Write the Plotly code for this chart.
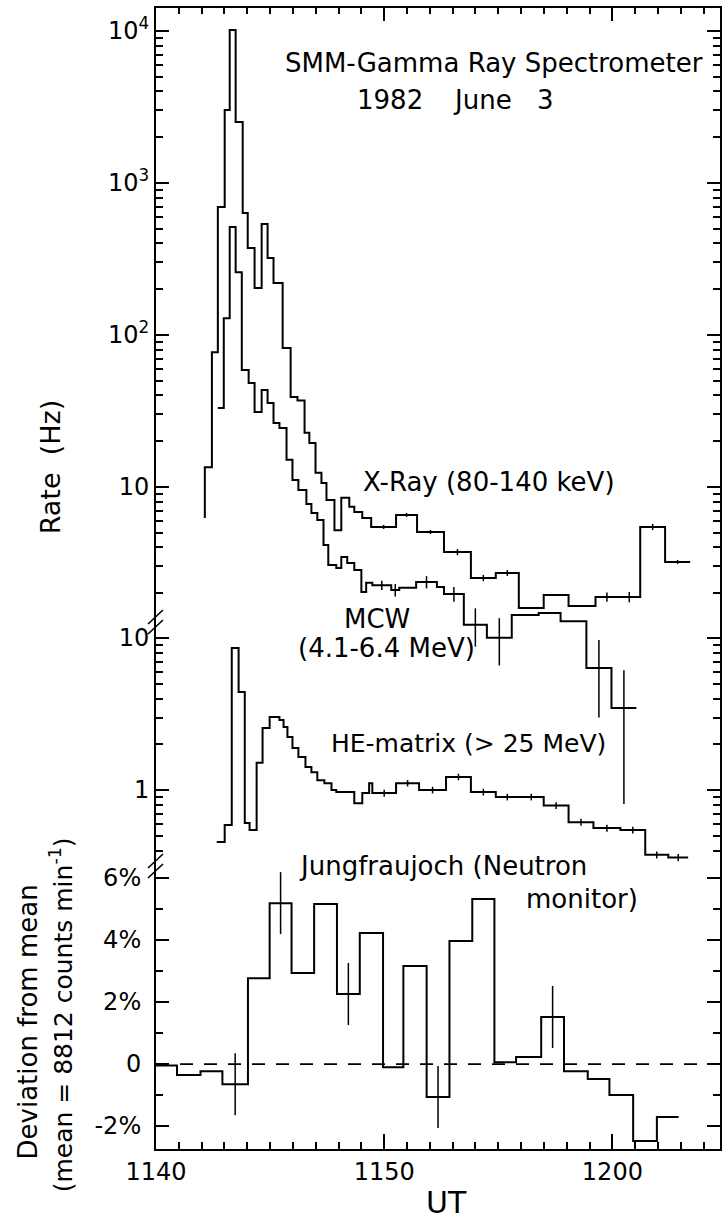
import plotly.graph_objects as go

# ---------------- data (time in minutes after 11:40 UT) ----------------
xray_edges = [2.14, 2.45, 2.71, 3.01, 3.23, 3.49, 3.80, 4.02, 4.32, 4.63,
              4.89, 5.15, 5.55, 5.90, 6.20, 6.51, 6.72, 6.99, 7.25, 7.47,
              7.82, 8.12, 8.47, 8.69, 9.04, 9.43, 10.52, 11.44, 12.62, 13.80,
              14.89, 15.90, 16.99, 18.08, 19.26, 20.26, 21.22, 22.31, 23.41]
xray_rate = [13.5, 77, 695, 3020, 10160, 2520, 635, 373, 204, 537,
             321, 220, 82, 39, 37, 22.7, 19.5, 12.4, 10.6, 8.2,
             5.2, 8.5, 7.4, 6.85, 6.25, 5.46, 6.55, 5.06, 3.73, 2.52,
             2.72, 1.60, 1.95, 1.65, 1.89, 1.89, 5.46, 3.21]
xray_start = 6.25
xray_err = [None] * 25 + [0.17, 0.2, 0.15, 0.17, 0.12, 0.12, None, None, None,
                          0.13, 0.15, 0.25, 0.1]

mcw_edges = [2.71, 2.97, 3.23, 3.49, 3.76, 4.06, 4.32, 4.63, 4.89, 5.15,
             5.41, 5.72, 5.98, 6.24, 6.59, 6.81, 7.07, 7.34, 7.55, 7.90,
             8.12, 8.38, 8.69, 9.00, 9.21, 9.48, 10.31, 10.66, 11.40, 12.31,
             12.62, 13.49, 14.50, 15.59, 16.77, 17.73, 18.86, 19.96, 21.05]
mcw_rate = [33.1, 129, 514, 259, 58.9, 48.3, 31.1, 43.5, 35.7, 26.4,
            24.4, 15.1, 11.1, 9.55, 7.73, 6.75, 6.07, 4.15, 3.07, 2.93,
            3.46, 3.16, 2.84, 2.04, 2.34, 2.26, 2.10, 2.17, 2.37, 2.20,
            1.98, 1.24, 1.02, 1.44, 1.48, 1.31, 0.644, 0.352]
mcw_err = [None] * 25 + [0.16, 0.2, None, 0.22, None, 0.22, 0.35, 0.35,
                         None, None, None, 0.34, 0.27]

he_edges = [2.66, 3.01, 3.32, 3.62, 3.89, 4.10, 4.41, 4.67, 4.98, 5.41,
            5.59, 5.76, 5.98, 6.24, 6.55, 6.81, 7.07, 7.38, 7.69, 7.90,
            8.69, 9.04, 9.34, 9.48, 10.52, 11.53, 12.71, 13.80, 14.89, 15.90,
            16.99, 18.08, 19.17, 20.35, 21.44, 22.45, 23.32]
he_rate = [0.455, 0.589, 8.59, 4.41, 0.607, 0.546, 1.51, 2.56, 3.02, 2.89,
           2.60, 2.23, 1.89, 1.65, 1.42, 1.31, 1.16, 1.11, 1.0, 0.97,
           0.82, 0.955, 1.11, 0.955, 1.11, 1.0, 1.22, 0.97, 0.90, 0.90,
           0.79, 0.615, 0.562, 0.546, 0.375, 0.36]
he_err = [None] * 23 + [0.05, 0.055, 0.05, 0.06, 0.05, 0.045, 0.045, 0.04,
                        0.032, 0.03, 0.028, 0.02, 0.02]

nm_edges = [0, 0.92, 1.95, 2.91, 4.03, 4.98, 5.94, 6.93, 7.93, 8.93,
            9.95, 10.84, 11.86, 12.86, 13.86, 14.83, 15.78, 16.88, 17.88, 18.92,
            19.87, 20.91, 21.95, 22.90]
nm_dev = [-0.05, -0.35, -0.23, -0.65, 2.77, 5.19, 2.94, 5.16, 2.26, 4.23,
          -0.1, 3.16, -1.06, 3.97, 5.32, 0.06, 0.23, 1.52, -0.23, -0.48,
          -1.0, -2.48, -1.71]
nm_err = [None, None, None, 1.0, None, 1.0, None, None, 1.0, None,
          None, None, 1.0, None, None, None, None, 1.0, None, None,
          None, None, None]

x_ticks = [0, 10, 20]
x_ticktext = ["1140", "1150", "1200"]
top_ticks = [10, 100, 1000, 10000]
top_ticktext = ["10", "10<sup>2</sup>", "10<sup>3</sup>", "10<sup>4</sup>"]
mid_ticks = [1, 10]
mid_ticktext = ["1", "10"]
bot_ticks = [-2, 0, 2, 4, 6]
bot_ticktext = ["-2%", "0", "2%", "4%", "6%"]

# ---------------- layout geometry ----------------
W, H = 723, 1222
L, R, T, B = 156, 1, 8, 73
PW, PH = W - L - R, H - T - B
FONT = "DejaVu Sans"


def fx(xp):
    return (xp - L) / PW


def fy(yp):
    return (H - B - yp) / PH


fig = go.Figure()


def add_hist(edges, vals, err, xa, ya, start=None):
    xs = list(edges)
    ys = list(vals) + [vals[-1]]
    if start is not None:
        xs = [edges[0]] + xs
        ys = [start] + ys
    fig.add_trace(go.Scatter(x=xs, y=ys, xaxis=xa, yaxis=ya, mode="lines",
                             line=dict(color="black", width=2, shape="hv"),
                             showlegend=False, hoverinfo="skip"))
    idx = [i for i in range(len(vals)) if err[i] is not None]
    fig.add_trace(go.Scatter(
        x=[(edges[i] + edges[i + 1]) / 2 for i in idx],
        y=[vals[i] for i in idx], xaxis=xa, yaxis=ya, mode="markers",
        marker=dict(size=1, color="black"),
        error_y=dict(type="data", array=[err[i] for i in idx], visible=True,
                     color="black", thickness=1.5, width=0),
        showlegend=False, hoverinfo="skip"))


add_hist(xray_edges, xray_rate, xray_err, "x2", "y", start=xray_start)
add_hist(mcw_edges, mcw_rate, mcw_err, "x2", "y")
add_hist(he_edges, he_rate, he_err, "x", "y2")
add_hist(nm_edges, nm_dev, nm_err, "x", "y3")

xmax = (W - R - L) / 22.9

tickfont = dict(family=FONT, size=24, color="black")
common_axis = dict(showline=True, linecolor="black", linewidth=2,
                   showgrid=False, zeroline=False, ticks="inside",
                   tickcolor="black", tickwidth=2, tickfont=tickfont)

d_bot = fy(865)
d_mid = fy(628)

minor_top = [m * 10 ** e for e in range(0, 4) for m in range(2, 10)]
minor_mid = [0.4, 0.5, 0.6, 0.7, 0.8, 0.9] + list(range(2, 10))

fig.update_layout(
    width=W, height=H, margin=dict(l=L, r=R, t=T, b=B, pad=0),
    paper_bgcolor="white", plot_bgcolor="rgba(0,0,0,0)", showlegend=False,
    xaxis=dict(domain=[0, 1], range=[0, xmax], anchor="y3", side="bottom",
               tickmode="array", tickvals=x_ticks, ticktext=x_ticktext,
               ticklen=15, ticklabelstandoff=0,
               minor=dict(dtick=1, tick0=0, ticks="inside", ticklen=7,
                          tickwidth=1.5, tickcolor="black"),
               **common_axis),
    xaxis2=dict(domain=[0, 1], matches="x", anchor="y", side="top",
                showticklabels=False, tickmode="array", tickvals=x_ticks,
                ticklen=13,
                minor=dict(dtick=1, tick0=0, ticks="inside", ticklen=6,
                           tickwidth=1.5, tickcolor="black"),
                **common_axis),
    yaxis=dict(domain=[d_bot, 1], anchor="x2", type="log",
               range=[-1.487, 4.151], tickmode="array", tickvals=top_ticks,
               ticktext=top_ticktext, ticklen=13, mirror="ticks",
               minor=dict(tickmode="array", tickvals=minor_top, ticks="inside",
                          ticklen=7, tickwidth=1.5, tickcolor="black"),
               **common_axis),
    yaxis2=dict(domain=[d_bot, d_mid], anchor="x", type="log",
                range=[-0.493, 1.066], tickmode="array", tickvals=mid_ticks,
                ticktext=mid_ticktext, ticklen=13, mirror="ticks",
                minor=dict(tickmode="array", tickvals=minor_mid, ticks="inside",
                           ticklen=7, tickwidth=1.5, tickcolor="black"),
                **common_axis),
    yaxis3=dict(domain=[0, d_bot], anchor="x", range=[-2.74, 6.42],
                tickmode="array", tickvals=bot_ticks, ticktext=bot_ticktext,
                ticklen=13, mirror="ticks", ticklabelstandoff=8,
                minor=dict(tickmode="array", tickvals=[-1, 1, 3, 5],
                           ticks="inside", ticklen=7, tickwidth=1.5,
                           tickcolor="black"),
                **common_axis),
)

# dashed zero line of the neutron-monitor panel
fig.add_shape(type="line", xref="paper", x0=0, x1=1, yref="y3", y0=0, y1=0,
              line=dict(color="black", width=1.8, dash="13px,11px"))

# axis-break marks
for yb in (622, 866):
    for dy in (-5, 5):
        fig.add_shape(type="line", xref="paper", yref="paper",
                      x0=fx(148), y0=fy(yb + dy + 7), x1=fx(163), y1=fy(yb + dy - 7),
                      line=dict(color="black", width=1.6))


def note(text, xp, yp, size=26, xanchor="center", angle=0):
    fig.add_annotation(text=text, x=fx(xp), y=fy(yp), xref="paper",
                       yref="paper", showarrow=False, xanchor=xanchor,
                       yanchor="middle", textangle=angle,
                       font=dict(family=FONT, size=size, color="black"))


note("SMM-Gamma Ray Spectrometer", 283, 63, xanchor="left")
note("1982", 391, 100)
note("June", 484, 100)
note("3", 547, 100)
note("Rate&nbsp;&nbsp;(Hz)", 50, 467, size=27, angle=-90)
note("X-Ray (80-140 keV)", 362, 482, xanchor="left")
note("MCW", 378, 619)
note("(4.1-6.4 MeV)", 387, 648)
note("HE-matrix (> 25 MeV)", 330, 743, size=25, xanchor="left")
note("Jungfraujoch (Neutron", 297, 866, xanchor="left")
note("monitor)", 525, 899, xanchor="left")
note("Deviation from mean", 28, 1022, angle=-90)
note("(mean = 8812 counts min<sup>-1</sup>)", 61, 1015, size=25, angle=-90)
note("UT", 448, 1202, size=30)

fig.write_html("out.html", config={"displayModeBar": False})
